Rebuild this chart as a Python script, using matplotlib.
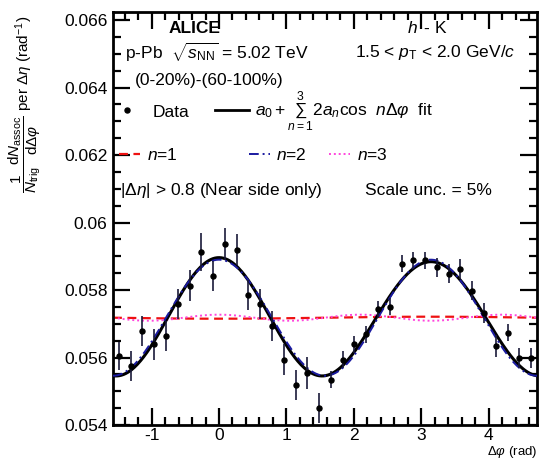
import numpy as np
import matplotlib
matplotlib.use("Agg")
import matplotlib.pyplot as plt
from matplotlib.lines import Line2D
from matplotlib.ticker import MultipleLocator, FuncFormatter

plt.rcParams['font.family'] = ['Liberation Sans', 'DejaVu Sans']
plt.rcParams['mathtext.fontset'] = 'custom'
plt.rcParams['mathtext.rm'] = 'Liberation Sans'
plt.rcParams['mathtext.it'] = 'Liberation Sans:italic'
plt.rcParams['mathtext.bf'] = 'Liberation Sans:bold'

# ---- data ----
bin_index = np.arange(36)
dphi = -np.pi / 2 + (bin_index + 0.5) * np.pi / 18
yield_vals = [0.05604, 0.05574, 0.05679, 0.05639, 0.05664, 0.05758, 0.05813, 0.05913,
              0.05841, 0.05937, 0.05920, 0.05785, 0.05758, 0.05693, 0.05594, 0.05519,
              0.05554, 0.05450, 0.05534, 0.05594, 0.05639, 0.05669, 0.05743, 0.05751,
              0.05878, 0.05888, 0.05888, 0.05868, 0.05848, 0.05863, 0.05798, 0.05733,
              0.05634, 0.05674, 0.05599, 0.05599]
yield_err = [0.00042, 0.00045, 0.00045, 0.00045, 0.00045, 0.00045, 0.00045, 0.00057,
             0.00045, 0.00047, 0.00047, 0.00045, 0.00045, 0.00045, 0.00045, 0.00045,
             0.00047, 0.00045, 0.00025, 0.00025, 0.00025, 0.00025, 0.00025, 0.00025,
             0.00025, 0.00025, 0.00025, 0.00028, 0.00028, 0.00030, 0.00028, 0.00030,
             0.00033, 0.00025, 0.00030, 0.00030]
# Fourier fit coefficients: a0, 2*a1, 2*a2, 2*a3
a0 = 0.05718
two_an = [-0.00003, 0.00172, 0.00009]

ytick_vals = [0.054, 0.056, 0.058, 0.060, 0.062, 0.064, 0.066]
xtick_vals = [-1, 0, 1, 2, 3, 4]

# ---- figure ----
fig = plt.figure(figsize=(5.48, 4.61), dpi=100)
ax = fig.add_axes([113 / 548, 1 - 425 / 461, 424 / 548, 413 / 461])

xs = np.linspace(-np.pi / 2, 3 * np.pi / 2, 400)
fit = a0 + sum(c * np.cos((n + 1) * xs) for n, c in enumerate(two_an))
comp = [a0 + c * np.cos((n + 1) * xs) for n, c in enumerate(two_an)]

red = '#ee1111'
blue = '#1a1aa0'
mag = '#ff44dd'
ls1 = (0, (4, 2.5))
ls2 = (0, (5, 2, 1, 2))
ls3 = (0, (1, 1.5))

ax.plot(xs, comp[0], color=red, ls=ls1, lw=1.6, zorder=2)
ax.plot(xs, comp[2], color=mag, ls=ls3, lw=1.4, zorder=2)
ax.plot(xs, fit, color='black', lw=2.2, zorder=3)
ax.plot(xs, comp[1], color=blue, ls=ls2, lw=1.4, zorder=4)
ax.errorbar(dphi, yield_vals, yerr=yield_err, fmt='o', color='black', ms=3.6,
            ecolor='#1a1a3a', elinewidth=1.2, capsize=0, zorder=5)

ax.set_xlim(-np.pi / 2, 3 * np.pi / 2)
ax.set_ylim(0.054, 0.06624)
ax.set_yticks(ytick_vals)
ax.set_xticks(xtick_vals)
ax.yaxis.set_minor_locator(MultipleLocator(0.0005))
ax.xaxis.set_minor_locator(MultipleLocator(0.2))
fmt = FuncFormatter(lambda v, p: f"{v:g}")
ax.yaxis.set_major_formatter(fmt)
ax.xaxis.set_major_formatter(fmt)
ax.tick_params(which='both', direction='in', top=True, right=True, width=1.6,
               labelsize=12.5, colors='black')
ax.tick_params(which='major', length=12, pad=4)
ax.tick_params(axis='x', which='major', pad=2.5)
ax.tick_params(which='minor', length=6)
for s in ax.spines.values():
    s.set_linewidth(2)

ax.set_xlabel(r"$\Delta\varphi$ (rad)", loc='right', fontsize=9.5)
ax.xaxis.set_label_coords(1.0, -0.046)
ax.set_ylabel(r"$\dfrac{1}{N_{\rm trig}}\dfrac{{\rm d}N_{\rm assoc}}{{\rm d}\Delta\varphi}$ per $\Delta\eta$ (rad$^{-1}$)",
              loc='top', fontsize=11)
ax.yaxis.set_label_coords(-0.165, 0.99)

fs = 12.5
T = ax.transAxes
ax.text(0.193, 0.961, "ALICE", transform=T, ha='center', va='center', fontsize=fs, fontweight='bold')
ax.text(0.741, 0.961, r"$h\,$ - K", transform=T, ha='center', va='center', fontsize=fs)
ax.text(0.028, 0.903, r"p-Pb  $\sqrt{s_{\rm NN}}$ = 5.02 TeV", transform=T, ha='left', va='center', fontsize=fs)
ax.text(0.95, 0.903, r"1.5 < $p_{\rm T}$ < 2.0 GeV/$c$", transform=T, ha='right', va='center', fontsize=fs)
ax.text(0.052, 0.835, "(0-20%)-(60-100%)", transform=T, ha='left', va='center', fontsize=fs)
ax.text(0.0165, 0.569, r"|$\Delta\eta$| > 0.8 (Near side only)", transform=T, ha='left', va='center', fontsize=fs)
ax.text(0.594, 0.569, "Scale unc. = 5%", transform=T, ha='left', va='center', fontsize=fs)

h_data = Line2D([], [], ls='none', marker='o', color='black', ms=3.6)
h_fit = Line2D([], [], color='black', lw=2)
leg_kw = dict(loc='center left', frameon=False, fontsize=fs, borderaxespad=0, borderpad=0)
h1 = Line2D([], [], color=red, ls=ls1, lw=1.6)
h2 = Line2D([], [], color=blue, ls=ls2, lw=1.4)
h3 = Line2D([], [], color=mag, ls=ls3, lw=1.4)
entries = [
    (h_data, "Data", (0.0, 0.758), 1.6, 0.7),
    (h_fit, r"$a_0 + \sum_{n=1}^{3} 2a_n{\rm cos}\ \ n\Delta\varphi$  fit", (0.24, 0.758), 2.0, 0.3),
    (h1, r"$n$=1", (0.015, 0.654), 1.2, 0.4),
    (h2, r"$n$=2", (0.32, 0.654), 1.2, 0.4),
    (h3, r"$n$=3", (0.51, 0.654), 1.2, 0.4),
]
for h, lab, anchor, hl, htp in entries:
    lg = ax.legend([h], [lab], bbox_to_anchor=anchor, handlelength=hl,
                   handletextpad=htp, **leg_kw)
    ax.add_artist(lg)
ax.legend_ = None

fig.savefig("out.png", dpi=100)
